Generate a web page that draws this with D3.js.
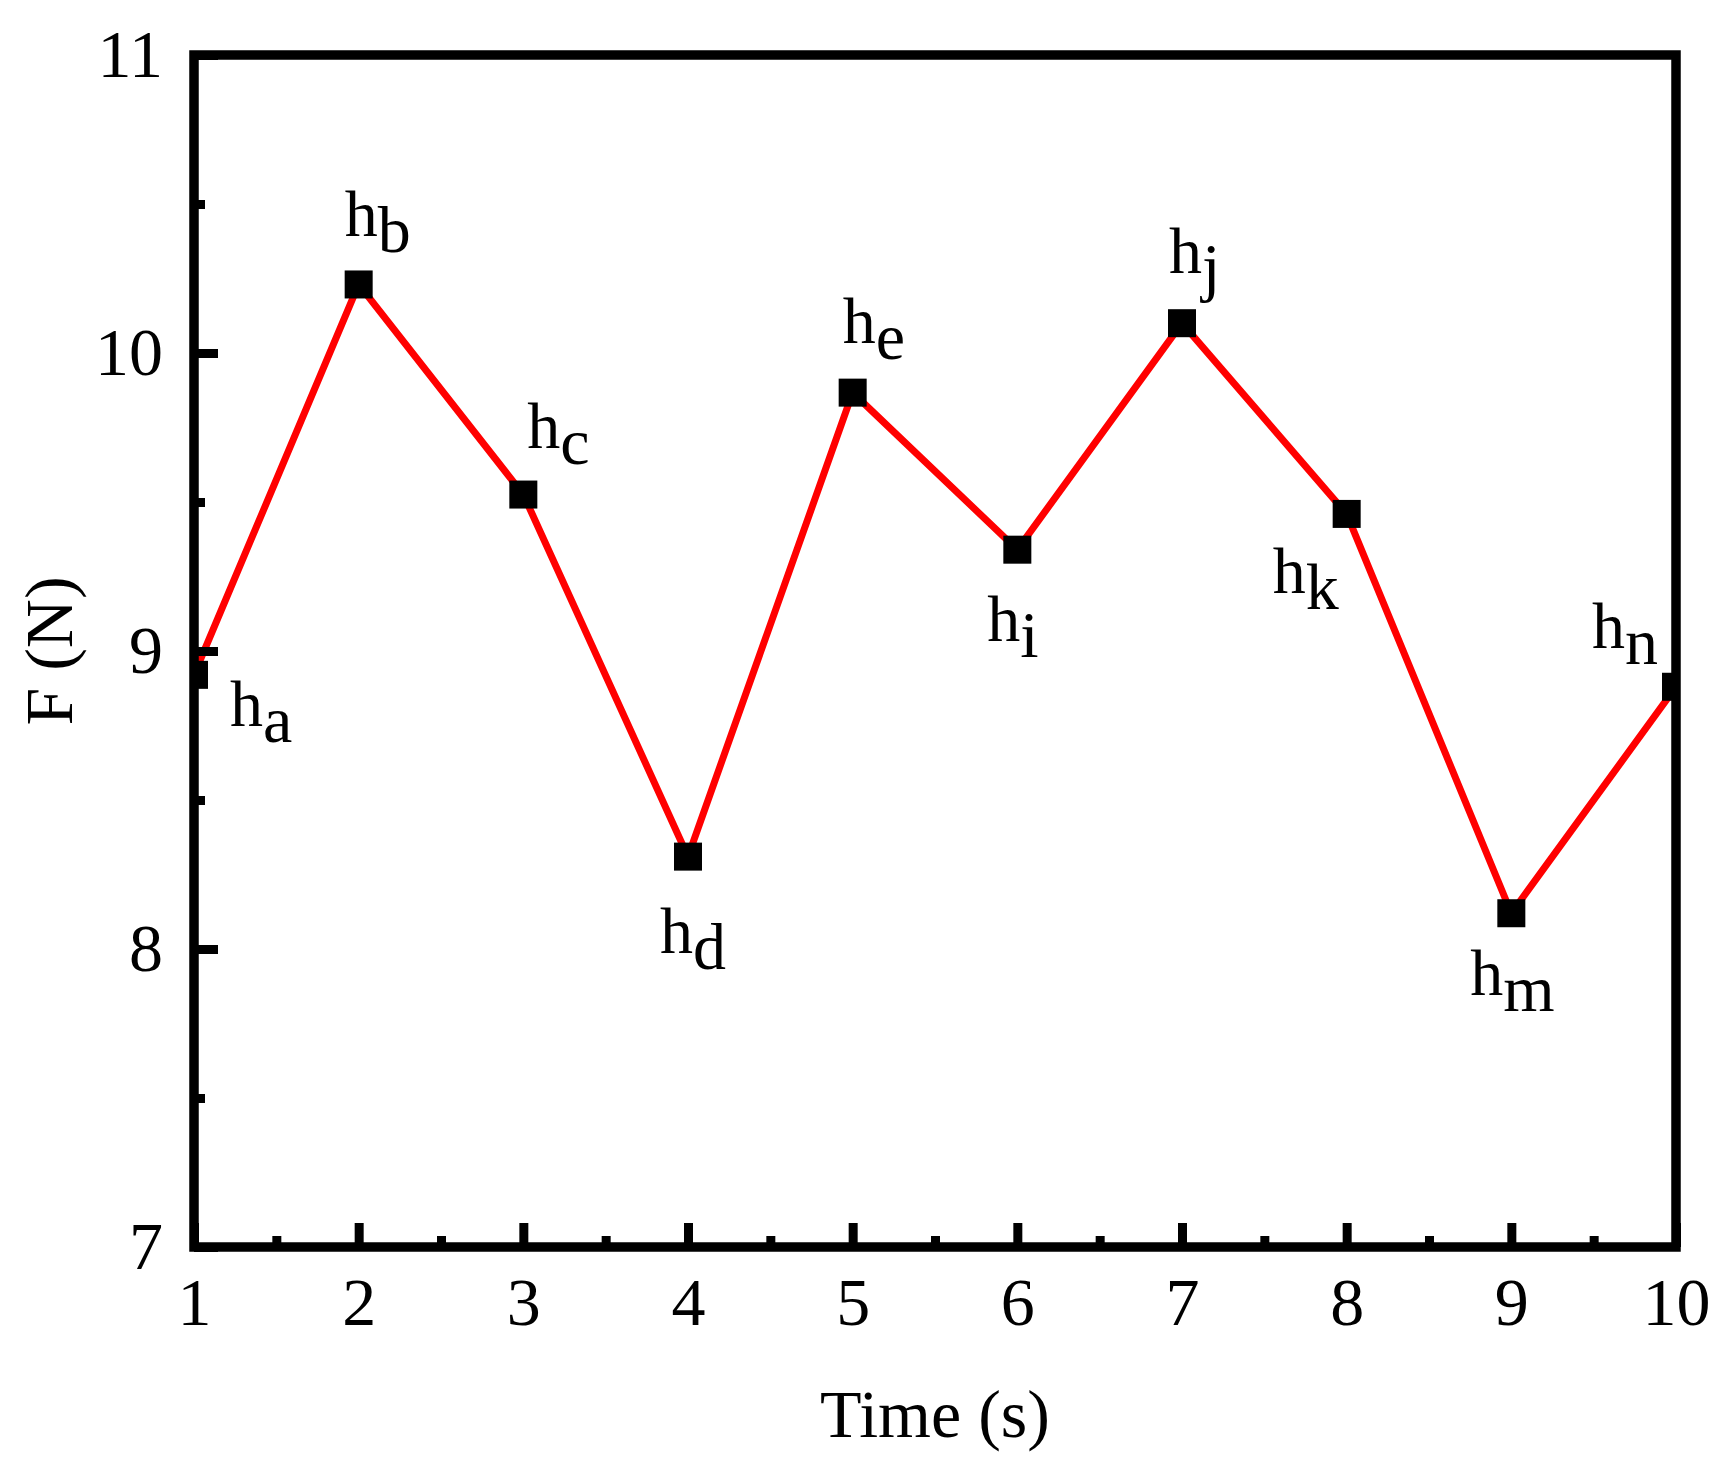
<!DOCTYPE html>
<html>
<head>
<meta charset="utf-8">
<script src="https://cdn.jsdelivr.net/npm/d3@7"></script>
<style>
  body { margin: 0; background: #fff; }
  text { font-family: "Liberation Serif", "Times New Roman", serif; fill: #000; }
</style>
</head>
<body>
<div id="wrapper"></div>
<script>
// 1. Data
const times = [1, 2, 3, 4, 5, 6, 7, 8, 9, 10]
const force = [8.92, 10.23, 9.525, 8.31, 9.867, 9.34, 10.10, 9.46, 8.12, 8.88]
const pointNames = ["a", "b", "c", "d", "e", "i", "j", "k", "m", "n"]
const xTicks = [1, 2, 3, 4, 5, 6, 7, 8, 9, 10]
const xMinorTicks = [1.5, 2.5, 3.5, 4.5, 5.5, 6.5, 7.5, 8.5, 9.5]
const yTicks = [7, 8, 9, 10, 11]
const yMinorTicks = [7.5, 8.5, 9.5, 10.5]

// label placement relative to each marker (px): [dx, dy of baseline]
const labelPlacement = [
  [36, 51], [-14, -48], [4, -47], [-28, 96], [-10, -50],
  [-30, 91], [-13, -50], [-74, 79], [-41, 82], [-84, -39],
]

const data = times.map((t, i) => ({ t, f: force[i], name: pointNames[i] }))

// 2. Dimensions
let dimensions = {
  width: 1720,
  height: 1471,
  margin: { top: 55, right: 44, bottom: 224, left: 194 },
}
dimensions.boundedWidth = dimensions.width - dimensions.margin.left - dimensions.margin.right
dimensions.boundedHeight = dimensions.height - dimensions.margin.top - dimensions.margin.bottom

// 3. Canvas
const wrapper = d3.select("#wrapper")
  .append("svg")
    .attr("width", dimensions.width)
    .attr("height", dimensions.height)

const bounds = wrapper.append("g")
    .attr("transform", `translate(${dimensions.margin.left},${dimensions.margin.top})`)

bounds.append("clipPath")
    .attr("id", "plot-clip")
  .append("rect")
    .attr("width", dimensions.boundedWidth)
    .attr("height", dimensions.boundedHeight)

// 4. Scales
const xScale = d3.scaleLinear()
  .domain([1, 10])
  .range([0, dimensions.boundedWidth])
const yScale = d3.scaleLinear()
  .domain([7, 11])
  .range([dimensions.boundedHeight, 0])

// 5. Data
const plot = bounds.append("g").attr("clip-path", "url(#plot-clip)")

const lineGenerator = d3.line()
  .x(d => xScale(d.t))
  .y(d => yScale(d.f))

plot.append("path")
    .datum(data)
    .attr("d", lineGenerator)
    .attr("fill", "none")
    .attr("stroke", "#ff0000")
    .attr("stroke-width", 7)

const markerSize = 28
plot.selectAll("rect.marker")
  .data(data)
  .join("rect")
    .attr("class", "marker")
    .attr("x", d => xScale(d.t) - markerSize / 2)
    .attr("y", d => yScale(d.f) - markerSize / 2)
    .attr("width", markerSize)
    .attr("height", markerSize)
    .attr("fill", "#000")

const labels = bounds.selectAll("text.point-label")
  .data(data)
  .join("text")
    .attr("class", "point-label")
    .attr("x", (d, i) => xScale(d.t) + labelPlacement[i][0])
    .attr("y", (d, i) => yScale(d.f) + labelPlacement[i][1])
    .style("font-size", "66px")
    .text("h")
labels.append("tspan")
    .attr("dy", 16)
    .text(d => d.name)

// 6. Peripherals
const styleAxis = g => {
  g.select(".domain").remove()
  g.selectAll(".tick line").attr("stroke", "#000").attr("stroke-width", 9)
  g.selectAll(".tick text").style("font-size", "68px").attr("fill", "#000")
}

bounds.append("g")
    .attr("transform", `translate(0,${dimensions.boundedHeight})`)
    .call(d3.axisBottom(xScale).tickValues(xMinorTicks).tickSize(-11).tickFormat(""))
    .call(styleAxis)
bounds.append("g")
    .attr("transform", `translate(0,${dimensions.boundedHeight})`)
    .call(d3.axisBottom(xScale).tickValues(xTicks).tickSize(-24).tickPadding(30).tickFormat(d3.format("d")))
    .call(styleAxis)

bounds.append("g")
    .call(d3.axisLeft(yScale).tickValues(yMinorTicks).tickSize(-11).tickFormat(""))
    .call(styleAxis)
bounds.append("g")
    .call(d3.axisLeft(yScale).tickValues(yTicks).tickSize(-24).tickPadding(31).tickFormat(d3.format("d")))
    .call(styleAxis)

// frame on top
bounds.append("rect")
    .attr("width", dimensions.boundedWidth)
    .attr("height", dimensions.boundedHeight)
    .attr("fill", "none")
    .attr("stroke", "#000")
    .attr("stroke-width", 9.5)

bounds.append("text")
    .attr("x", dimensions.boundedWidth / 2)
    .attr("y", dimensions.boundedHeight + 190)
    .attr("text-anchor", "middle")
    .style("font-size", "68px")
    .text("Time (s)")

bounds.append("text")
    .attr("transform", `translate(${72 - dimensions.margin.left},${dimensions.boundedHeight / 2}) rotate(-90)`)
    .attr("text-anchor", "middle")
    .style("font-size", "68px")
    .text("F (N)")
</script>
</body>
</html>
